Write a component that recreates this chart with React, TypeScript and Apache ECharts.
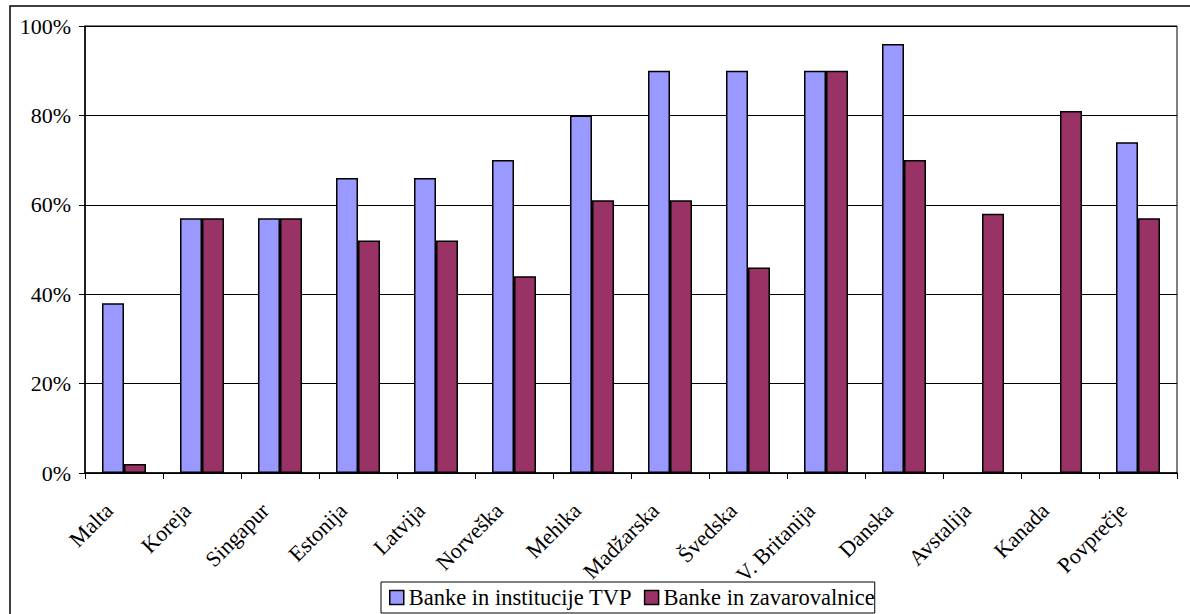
import React, { useEffect, useRef } from "react";
import * as echarts from "echarts";

const categories = ["Malta", "Koreja", "Singapur", "Estonija", "Latvija", "Norveška", "Mehika", "Madžarska", "Švedska", "V. Britanija", "Danska", "Avstalija", "Kanada", "Povprečje"];
const bankeTVP = [38, 57, 57, 66, 66, 70, 80, 90, 90, 90, 96, null, null, 74];
const bankeZav = [2, 57, 57, 52, 52, 44, 61, 61, 46, 90, 70, 58, 81, 57];
const seriesNames = ["Banke in institucije TVP", "Banke in zavarovalnice"];
const yTicks = [0, 20, 40, 60, 80, 100];

export default function App() {
  const ref = useRef<HTMLDivElement>(null);
  useEffect(() => {
    const chart = echarts.init(ref.current!, null, { renderer: "svg" });
    const font = "Liberation Serif";
    chart.setOption({
      animation: false,
      textStyle: { fontFamily: font, color: "#000" },
      graphic: [
        {
          type: "rect",
          shape: { x: 10, y: 6, width: 1200, height: 700 },
          style: { fill: "none", stroke: "#000", lineWidth: 1.5 },
          silent: true,
        },
      ],
      grid: { left: 85, top: 26, right: 13, bottom: 141, show: true, borderColor: "#000", borderWidth: 1, backgroundColor: "transparent" },
      legend: {
        top: 582,
        left: 381,
        itemWidth: 14,
        itemHeight: 14,
        itemGap: 12,
        padding: [4, 0, 4, 8],
        borderColor: "#000",
        borderWidth: 1,
        borderRadius: 0,
        icon: "rect",
        itemStyle: { borderColor: "#000", borderWidth: 1.5 },
        textStyle: { fontFamily: font, fontSize: 22.5, color: "#000" },
        data: seriesNames,
      },
      xAxis: {
        type: "category",
        data: categories,
        axisLine: { lineStyle: { color: "#000", width: 1.5 } },
        axisTick: { show: true, length: 6, alignWithLabel: false, lineStyle: { color: "#000" } },
        axisLabel: { rotate: 45, fontSize: 22, color: "#000", fontFamily: font, margin: 19, interval: 0, padding: [0, 21, 0, 0] },
      },
      yAxis: {
        type: "value",
        min: 0,
        max: 100,
        interval: 20,
        axisLine: { show: true, lineStyle: { color: "#000", width: 1.5 } },
        axisTick: { show: true, length: 6, lineStyle: { color: "#000" } },
        axisLabel: {
          fontSize: 22,
          color: "#000",
          fontFamily: font,
          margin: 14,
          formatter: (v: number) => (yTicks.includes(v) ? v + "%" : ""),
        },
        splitLine: { lineStyle: { color: "#000", width: 1 } },
      },
      series: [
        {
          name: seriesNames[0],
          type: "bar",
          data: bankeTVP,
          barWidth: 22,
          barGap: "0%",
          itemStyle: { color: "#9999FF", borderColor: "#000", borderWidth: 1.5 },
        },
        {
          name: seriesNames[1],
          type: "bar",
          data: bankeZav,
          barWidth: 22,
          barGap: "0%",
          itemStyle: { color: "#993366", borderColor: "#000", borderWidth: 1.5 },
        },
      ],
    });
    return () => chart.dispose();
  }, []);
  return <div ref={ref} style={{ width: 1190, height: 614, position: "absolute", left: 0, top: 0 }} />;
}
